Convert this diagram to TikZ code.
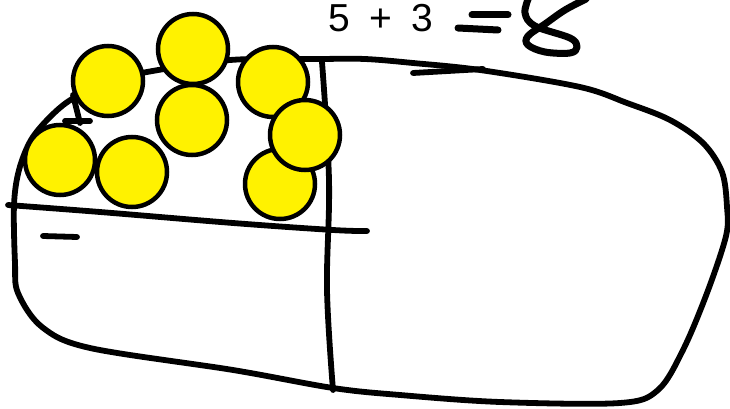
\documentclass[tikz,border=0pt]{standalone}
\usepackage{fontspec}
\setmainfont{Liberation Sans}
\usetikzlibrary{positioning}
\newcommand{\sumfont}{\fontsize{39}{44}\selectfont\spaceskip=0.5em\relax}

\begin{document}
\begin{tikzpicture}[
  x=1pt, y=-1pt,
  pen/.style={line width=5.8pt, line cap=round, line join=round},
  thickpen/.style={line width=7pt, line cap=round, line join=round},
  counter/.style={circle, draw, line width=4.5pt, fill=yellow, minimum size=70pt, inner sep=0pt},
  sum/.style={font=\sumfont, anchor=base},
]
\useasboundingbox (0,0) rectangle (730,409);

% ================= the loaf and its parts =================
\draw[pen] plot[smooth cycle, tension=0.55] coordinates {
  (147,72) (230,60) (320,59) (365,59) (413,63) (480,70) (580,87)
  (627,103) (670,120) (703,143) (722,172) (727,207) (726,236)
  (707,293) (683,350) (658,390) (620,403) (500,402) (400,395)
  (333,388) (233,370) (90,348) (42,327) (18,293) (15,263)
  (14,205) (19,170) (31,140) (50,117) (72,99) (108,82)};
\draw[pen] (413,73) -- (483,69);

\draw[pen] plot[smooth, tension=0.6] coordinates {(322,62) (329,180) (327,290) (333,390)};
\draw[pen] plot[smooth, tension=0.6] coordinates {(8,205) (100,212) (233,223) (333,230) (367,231)};
\draw[pen] (43,236) -- (77,237);

% small mark under the counters
\draw[pen] (73,95) -- (80,123);
\draw[pen] (65,121) -- (90,121);

% ================= counters =================
\foreach \n/\x/\y in {1/108/81, 2/193/49, 3/273/82, 4/192/120,
                      5/60/160, 6/132/172, 7/280/184, 8/305/135}
  \node[counter] (c\n) at (\x,\y) {};

% ================= sum =================
\node[sum] (question) at (381,32) {5 + 3};
\draw[thickpen] (472,15) -- (508,15);
\draw[thickpen] (458,28) -- (498,30);
\draw[thickpen] plot[smooth, tension=0.6] coordinates {
  (529,-3) (525,13) (535,26) (570,38) (577,47) (570,53) (545,52)
  (528,45) (528,36) (545,24) (565,10) (586,-1)};

\end{tikzpicture}
\end{document}
